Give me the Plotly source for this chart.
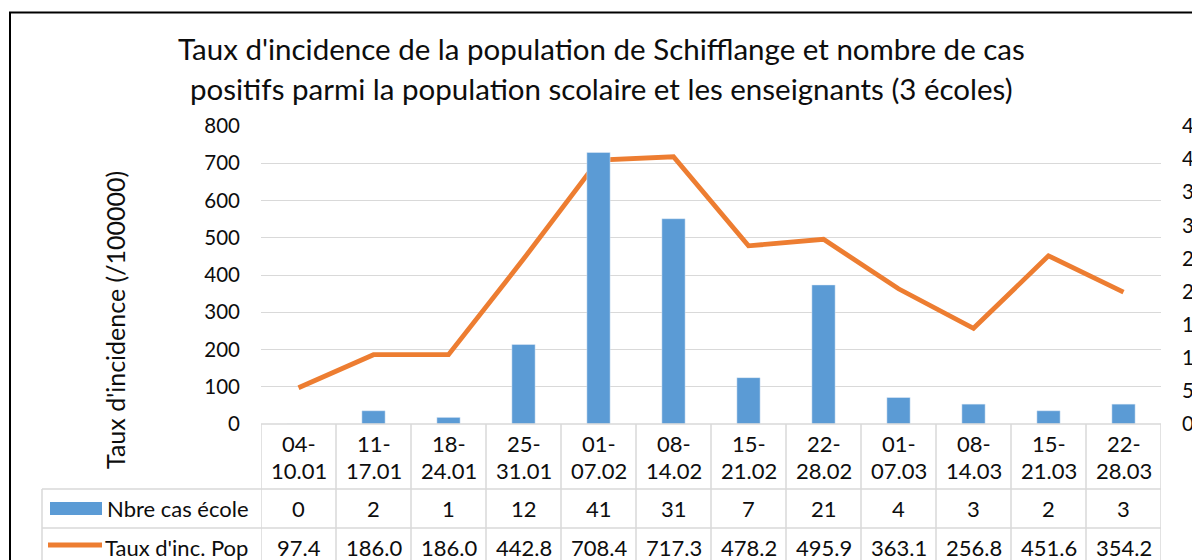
import plotly.graph_objects as go

# ---- data ----
categories = ["04-10.01", "11-17.01", "18-24.01", "25-31.01", "01-07.02", "08-14.02",
              "15-21.02", "22-28.02", "01-07.03", "08-14.03", "15-21.03", "22-28.03"]
cas_ecole = [0, 2, 1, 12, 41, 31, 7, 21, 4, 3, 2, 3]
taux_pop = [97.4, 186.0, 186.0, 442.8, 708.4, 717.3, 478.2, 495.9, 363.1, 256.8, 451.6, 354.2]
series_names = ["Nbre cas école", "Taux d'inc. Pop"]
left_ticks = [0, 100, 200, 300, 400, 500, 600, 700, 800]
right_ticks = [0, 5, 10, 15, 20, 25, 30, 35, 40, 45]
title_lines = ["Taux d'incidence de la population de Schifflange et nombre de cas",
               "positifs parmi la population scolaire et les enseignants (3 écoles)"]
y_title = "Taux d'incidence (/100000)"

# ---- layout constants (page has an 8px body margin) ----
OFF = 8
W, H = 1200 - OFF, 560 - OFF
L, R, T, B = 261 - OFF, 39, 126 - OFF, 136
PW, PH = W - L - R, H - T - B
FONT = "Lato, 'Open Sans', sans-serif"
BLUE = "#5B9BD5"
ORANGE = "#ED7D31"
GRID = "#D9D9D9"
TXT = "#0d0d0d"


def px_x(px):
    # px given in screenshot coordinates
    return (px - OFF - L) / PW


def px_y(py):
    return (H - B - (py - OFF)) / PH


fig = go.Figure()
fig.add_trace(go.Bar(x=categories, y=cas_ecole, name=series_names[0], marker_color=BLUE,
                     width=0.31, yaxis="y2"))
fig.add_trace(go.Scatter(x=categories, y=taux_pop, name=series_names[1], mode="lines",
                         line=dict(color=ORANGE, width=4.8), yaxis="y"))

shapes = []
annotations = []

# chart outer border
shapes.append(dict(type="rect", xref="paper", yref="paper",
                   x0=px_x(10), x1=px_x(1260), y0=px_y(12.5), y1=px_y(620),
                   line=dict(color="black", width=2), fillcolor="rgba(0,0,0,0)", layer="above"))

# data table grid
row_y = [424, 489, 528, 566]
shapes.append(dict(type="line", xref="x", yref="paper", x0=-0.5, x1=len(categories) - 0.5,
                   y0=px_y(row_y[0]), y1=px_y(row_y[0]), line=dict(color=GRID, width=1.5)))
for ry in row_y[1:]:
    shapes.append(dict(type="line", xref="paper", yref="paper", x0=px_x(42), x1=1,
                       y0=px_y(ry), y1=px_y(ry), line=dict(color=GRID, width=1.5)))
for i in range(len(categories) + 1):
    shapes.append(dict(type="line", xref="x", yref="paper", x0=i - 0.5, x1=i - 0.5,
                       y0=px_y(row_y[0]), y1=px_y(row_y[3]), line=dict(color=GRID, width=1.5)))
shapes.append(dict(type="line", xref="paper", yref="paper", x0=px_x(42), x1=px_x(42),
                   y0=px_y(row_y[1]), y1=px_y(row_y[3]), line=dict(color=GRID, width=1.5)))

# legend keys
shapes.append(dict(type="rect", xref="paper", yref="paper", x0=px_x(50), x1=px_x(102),
                   y0=px_y(502), y1=px_y(515), fillcolor=BLUE, line=dict(width=0)))
shapes.append(dict(type="line", xref="paper", yref="paper", x0=px_x(48), x1=px_x(102),
                   y0=px_y(545), y1=px_y(545), line=dict(color=ORANGE, width=4.8)))

cell_font = dict(family=FONT, size=22, color=TXT)
for cat, n, t in zip(categories, cas_ecole, taux_pop):
    top, bottom = cat.split("-", 1)
    annotations.append(dict(x=cat, xref="x", y=px_y(443), yref="paper", text=top + "-",
                            showarrow=False, font=cell_font, xanchor="center", yanchor="middle"))
    annotations.append(dict(x=cat, xref="x", y=px_y(470), yref="paper", text=bottom,
                            showarrow=False, font=cell_font, xanchor="center", yanchor="middle"))
    annotations.append(dict(x=cat, xref="x", y=px_y(508), yref="paper", text=str(n),
                            showarrow=False, font=cell_font, xanchor="center", yanchor="middle"))
    annotations.append(dict(x=cat, xref="x", y=px_y(547), yref="paper", text=f"{t:.1f}",
                            showarrow=False, font=cell_font, xanchor="center", yanchor="middle"))

annotations.append(dict(x=px_x(105), xref="paper", y=px_y(508), yref="paper", text=series_names[0],
                        showarrow=False, font=cell_font, xanchor="left", yanchor="middle"))
annotations.append(dict(x=px_x(103), xref="paper", y=px_y(547), yref="paper", text=series_names[1],
                        showarrow=False, font=cell_font, xanchor="left", yanchor="middle"))

# title lines
for line, yy in zip(title_lines, [48, 88]):
    annotations.append(dict(x=px_x(601), xref="paper", y=px_y(yy), yref="paper", text=line,
                            showarrow=False, font=dict(family=FONT, size=29.5, color=TXT),
                            xanchor="center", yanchor="middle"))

# y-axis title
annotations.append(dict(x=px_x(115), xref="paper", y=px_y(320), yref="paper", text=y_title,
                        textangle=-90, showarrow=False, font=dict(family=FONT, size=25, color=TXT),
                        xanchor="center", yanchor="middle"))

fig.update_layout(
    width=W, height=H,
    margin=dict(l=L, r=R, t=T, b=B, pad=0, autoexpand=False),
    paper_bgcolor="white", plot_bgcolor="white",
    showlegend=False,
    font=dict(family=FONT, size=21, color=TXT),
    xaxis=dict(type="category", range=[-0.5, len(categories) - 0.5], showticklabels=False,
               showgrid=False, zeroline=False, showline=False, ticks="", automargin=False),
    yaxis=dict(range=[0, 800], tickvals=left_ticks, showgrid=True, gridcolor=GRID, gridwidth=1.3,
               zeroline=False, showline=False, ticks="", ticklabelstandoff=20, automargin=False,
               tickfont=dict(family=FONT, size=20.5, color=TXT)),
    yaxis2=dict(range=[0, 45], tickvals=right_ticks, overlaying="y", side="right", showgrid=False,
                zeroline=False, showline=False, ticks="", ticklabelstandoff=20, automargin=False,
                tickfont=dict(family=FONT, size=20.5, color=TXT)),
    shapes=shapes,
    annotations=annotations,
)

fig.write_html("out.html")
